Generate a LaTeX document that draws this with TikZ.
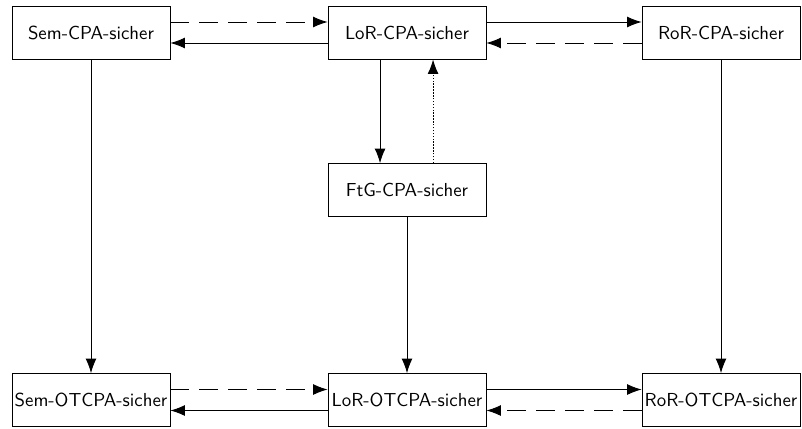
\documentclass[tikz,border=0pt]{standalone}
\usetikzlibrary{arrows.meta}
\begin{document}
\begin{tikzpicture}[x=0.5525pt,y=-0.5525pt,
  box/.style={draw, rectangle, minimum width=87.3pt, minimum height=29.3pt, inner sep=1pt, font=\sffamily\fontsize{10.4}{12}\selectfont},
  arr/.style={-{Latex[length=8pt,width=6pt]}, line width=0.5pt},
  dsh/.style={arr, dash pattern=on 10.5pt off 5.5pt},
  dot/.style={arr, line width=0.6pt, dash pattern=on 0.8pt off 0.8pt}]
\useasboundingbox (0,0) rectangle (802,428);
\node[box] (semcpa) at (91,32.5) {Sem-CPA-sicher};
\node[box] (lorcpa) at (407,32.5) {LoR-CPA-sicher};
\node[box] (rorcpa) at (721,32.5) {RoR-CPA-sicher};
\node[box] (ftg) at (407,190) {FtG-CPA-sicher};
\node[box] (semot) at (91,400) {Sem-OTCPA-sicher};
\node[box] (lorot) at (407,400) {LoR-OTCPA-sicher};
\node[box] (rorot) at (721,400) {RoR-OTCPA-sicher};
% top row
\draw[dsh] ([yshift=5.8pt]semcpa.east) -- ([yshift=5.8pt]lorcpa.west);
\draw[arr] ([yshift=-5.8pt]lorcpa.west) -- ([yshift=-5.8pt]semcpa.east);
\draw[arr] ([yshift=5.8pt]lorcpa.east) -- ([yshift=5.8pt]rorcpa.west);
\draw[dsh] ([yshift=-5.8pt]rorcpa.west) -- ([yshift=-5.8pt]lorcpa.east);
% bottom row
\draw[dsh] ([yshift=5.8pt]semot.east) -- ([yshift=5.8pt]lorot.west);
\draw[arr] ([yshift=-5.8pt]lorot.west) -- ([yshift=-5.8pt]semot.east);
\draw[arr] ([yshift=5.8pt]lorot.east) -- ([yshift=5.8pt]rorot.west);
\draw[dsh] ([yshift=-5.8pt]rorot.west) -- ([yshift=-5.8pt]lorot.east);
% verticals
\draw[arr] (semcpa) -- (semot);
\draw[arr] (rorcpa) -- (rorot);
\draw[arr] ([xshift=-14.9pt]lorcpa.south) -- ([xshift=-14.9pt]ftg.north);
\draw[dot] ([xshift=14.4pt]ftg.north) -- ([xshift=14.4pt]lorcpa.south);
\draw[arr] (ftg) -- (lorot);
\end{tikzpicture}
\end{document}
